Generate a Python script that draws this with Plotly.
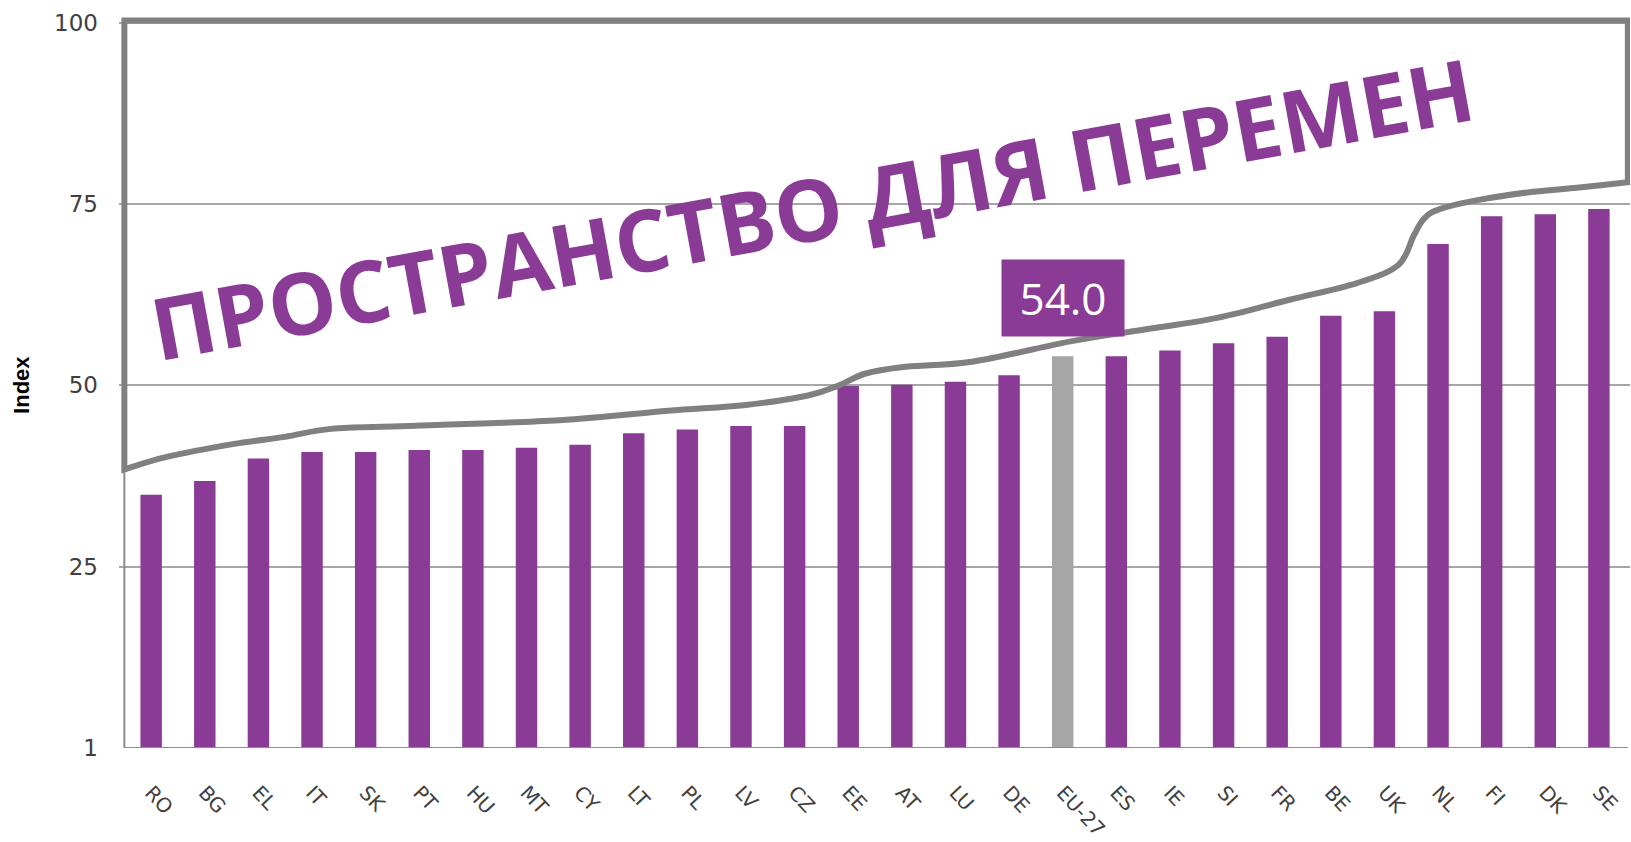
import plotly.graph_objects as go

# ---------------- data ----------------
COUNTRIES = ["RO", "BG", "EL", "IT", "SK", "PT", "HU", "MT", "CY", "LT", "PL", "LV", "CZ", "EE",
             "AT", "LU", "DE", "EU-27", "ES", "IE", "SI", "FR", "BE", "UK", "NL", "FI", "DK", "SE"]
INDEX_VALUES = [34.9, 36.8, 39.9, 40.8, 40.8, 41.1, 41.1, 41.4, 41.8, 43.4, 43.9, 44.4, 44.4, 49.9,
                50.1, 50.5, 51.4, 54.0, 54.0, 54.8, 55.8, 56.7, 59.6, 60.2, 69.5, 73.3, 73.6, 74.3]
HIGHLIGHT = "EU-27"
Y_TICK_VALS = [0, 25, 50, 75, 100]
Y_TICK_TEXT = ["1", "25", "50", "75", "100"]
TITLE_TEXT = "ПРОСТРАНСТВО ДЛЯ ПЕРЕМЕН"
AXIS_TITLE = "Index"

# outline of the "room for change" area (category position, index value), right to left
OUTLINE_X = [27.54, 26.54, 25.67, 24.71, 24.03, 23.74, 23.55, 23.26, 22.49, 21.23, 19.88, 18.53,
             17.17, 15.34, 13.99, 13.31, 12.83, 12.25, 11.09, 9.64, 7.61, 4.81, 3.36, 2.49, 1.52,
             0.27, -0.5]
OUTLINE_Y = [78.0, 77.2, 76.6, 75.5, 74.3, 73.0, 70.7, 66.6, 64.1, 61.8, 59.3, 57.7, 56.1, 53.3,
             52.5, 51.6, 50.0, 48.6, 47.3, 46.5, 45.2, 44.4, 44.0, 42.9, 41.9, 40.1, 38.4]
OUTLINE_TOP = 100.3

PURPLE = "#8A3B96"
GREY_BAR = "#A6A6A6"
OUTLINE_GREY = "#808080"
GRID_GREY = "#A6A6A6"

n = len(COUNTRIES)
colors = [GREY_BAR if c == HIGHLIGHT else PURPLE for c in COUNTRIES]
eu_value = INDEX_VALUES[COUNTRIES.index(HIGHLIGHT)]

fig = go.Figure()
fig.add_trace(go.Bar(
    x=COUNTRIES, y=INDEX_VALUES, marker=dict(color=colors, line=dict(width=0)),
    hoverinfo="x+y", showlegend=False,
))


# smooth path (Catmull-Rom -> cubic Bezier)
def smooth_path(xs, ys):
    pts = list(zip(xs, ys))
    s = ""
    for i in range(len(pts) - 1):
        p0 = pts[i - 1] if i > 0 else pts[i]
        p1 = pts[i]
        p2 = pts[i + 1]
        p3 = pts[i + 2] if i + 2 < len(pts) else pts[i + 1]
        c1 = (p1[0] + (p2[0] - p0[0]) / 6, p1[1] + (p2[1] - p0[1]) / 6)
        c2 = (p2[0] - (p3[0] - p1[0]) / 6, p2[1] - (p3[1] - p1[1]) / 6)
        s += f" C {c1[0]:.4f},{c1[1]:.4f} {c2[0]:.4f},{c2[1]:.4f} {p2[0]:.4f},{p2[1]:.4f}"
    return s


left_x = OUTLINE_X[-1]
right_x = OUTLINE_X[0]
path = (f"M {left_x},{OUTLINE_Y[-1]} L {left_x},{OUTLINE_TOP} L {right_x},{OUTLINE_TOP} "
        f"L {right_x},{OUTLINE_Y[0]}" + smooth_path(OUTLINE_X, OUTLINE_Y) + " Z")

shapes = [
    # axis lines
    dict(type="line", xref="x", yref="y", x0=-0.5, x1=n - 0.5 + 0.04, y0=0, y1=0,
         line=dict(color="#8C8C8C", width=2), layer="above"),
    dict(type="line", xref="x", yref="y", x0=-0.5, x1=-0.5, y0=0, y1=40,
         line=dict(color="#8C8C8C", width=2), layer="above"),
    # outline
    dict(type="path", xref="x", yref="y", path=path,
         line=dict(color=OUTLINE_GREY, width=6), fillcolor="rgba(0,0,0,0)", layer="above"),
]

annotations = [
    dict(text=TITLE_TEXT, x=12.32, y=74.5, xref="x", yref="y", showarrow=False,
         textangle=-10.4, xanchor="center", yanchor="middle",
         font=dict(family="Open Sans", size=86, color=PURPLE, weight=700)),
    dict(text=f"{eu_value:.1f}", x=HIGHLIGHT, y=62.0, xref="x", yref="y", showarrow=False,
         width=120, height=74, borderpad=1, bgcolor=PURPLE, xanchor="center", yanchor="middle",
         font=dict(family="Open Sans", size=44, color="white")),
    dict(text=f"<b>{AXIS_TITLE}</b>", x=-0.0645, y=50, xref="paper", yref="y", showarrow=False,
         textangle=-90, xanchor="center", yanchor="middle",
         font=dict(family="Liberation Sans", size=22, color="black")),
]

fig.update_layout(
    width=1631, height=842,
    margin=dict(l=119, r=1, t=14, b=90),
    paper_bgcolor="white", plot_bgcolor="white",
    bargap=0.6,
    shapes=shapes, annotations=annotations,
    xaxis=dict(type="category", range=[-0.6, n - 0.5 + 0.08], showgrid=False, showline=False,
               zeroline=False, ticks="", tickangle=47, ticklabelstandoff=28,
               tickfont=dict(family="DejaVu Sans", size=20, color="#404040")),
    yaxis=dict(range=[0, 101.2], tickvals=Y_TICK_VALS, ticktext=Y_TICK_TEXT,
               showgrid=True, gridcolor=GRID_GREY, gridwidth=2, zeroline=False, showline=False,
               ticks="", ticklabelstandoff=20,
               tickfont=dict(family="DejaVu Sans", size=23, color="#404040")),
)

fig.write_html("out.html", config={"displayModeBar": False},
               post_script="document.body.style.margin='0';document.body.style.overflow='hidden';")
